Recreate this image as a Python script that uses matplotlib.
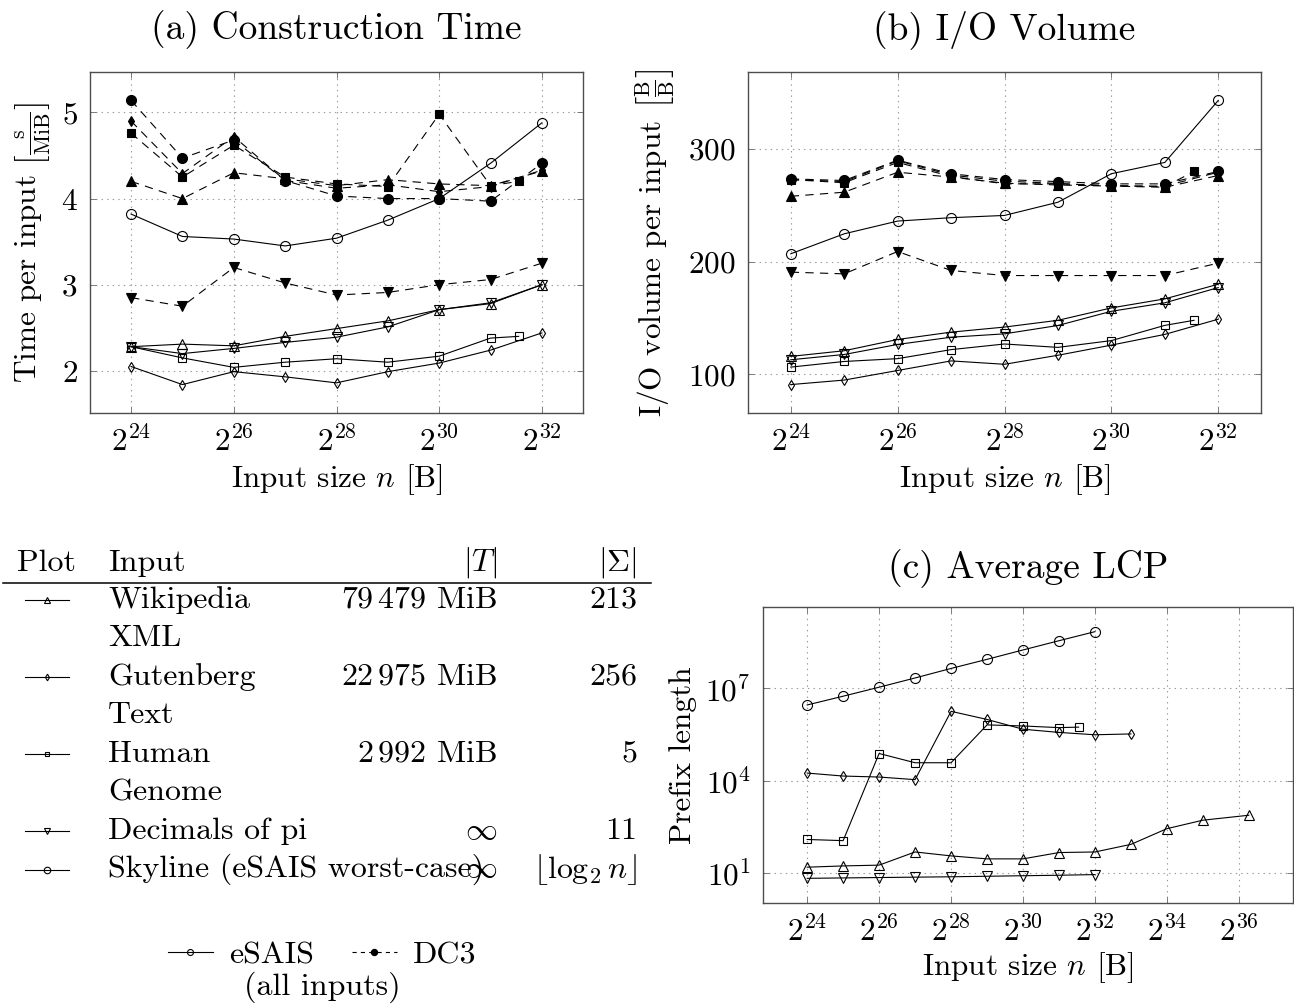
import numpy as np
import matplotlib
matplotlib.use('Agg')
import matplotlib.pyplot as plt
from matplotlib.lines import Line2D
from matplotlib.ticker import FixedLocator, NullLocator, LogFormatterSciNotation

plt.rcParams.update({
    'font.family': 'serif',
    'font.serif': ['cmr10'],
    'mathtext.fontset': 'cm',
    'axes.formatter.use_mathtext': True,
    'font.size': 22.5,
    'lines.scale_dashes': False,
})

W, H = 1294, 1007

# ---------------- data ----------------
inputs = ['wiki', 'gutenberg', 'genome', 'pi', 'skyline']
markers = {'wiki': '^', 'gutenberg': 'd', 'genome': 's', 'pi': 'v', 'skyline': 'o'}
msizes = {'^': 6.5, 'v': 6.5, 'd': 5.2, 's': 5.3, 'o': 7.2}

exp_std = [24, 25, 26, 27, 28, 29, 30, 31, 32]
exp_genome = [24, 25, 26, 27, 28, 29, 30, 31, 31.547]
exp_guten_lcp = [24, 25, 26, 27, 28, 29, 30, 31, 32, 33]
exp_wiki_lcp = [24, 25, 26, 27, 28, 29, 30, 31, 32, 33, 34, 35, 36.278]

# (a) construction time [s/MiB]
time_esais = {
    'wiki':      [2.28, 2.31, 2.29, 2.40, 2.49, 2.58, 2.71, 2.78, 3.00],
    'gutenberg': [2.05, 1.84, 1.99, 1.93, 1.86, 1.99, 2.09, 2.24, 2.44],
    'genome':    [2.28, 2.15, 2.04, 2.10, 2.14, 2.10, 2.17, 2.38, 2.40],
    'pi':        [2.28, 2.20, 2.26, 2.33, 2.39, 2.51, 2.71, 2.79, 3.00],
    'skyline':   [3.82, 3.56, 3.53, 3.45, 3.54, 3.75, 4.00, 4.41, 4.88],
}
time_dc3 = {
    'wiki':      [4.20, 4.00, 4.30, 4.23, 4.15, 4.22, 4.17, 4.15, 4.32],
    'gutenberg': [4.90, 4.29, 4.72, 4.21, 4.12, 4.16, 4.08, 4.14, 4.33],
    'genome':    [4.76, 4.25, 4.62, 4.25, 4.17, 4.14, 4.98, 4.15, 4.20],
    'pi':        [2.85, 2.75, 3.20, 3.02, 2.88, 2.91, 3.00, 3.06, 3.25],
    'skyline':   [5.14, 4.47, 4.68, 4.21, 4.03, 4.00, 4.00, 3.97, 4.41],
}

# (b) I/O volume [B/B]
io_esais = {
    'wiki':      [116, 121, 131, 137.5, 142, 148, 159, 167, 180],
    'gutenberg': [91, 95, 103.5, 112, 109, 117, 126, 135.5, 149],
    'genome':    [106.5, 111.5, 114, 122, 127, 124, 130, 143.5, 148],
    'pi':        [113, 117.7, 126.6, 133, 136, 143.4, 156, 163.5, 177],
    'skyline':   [207, 224.7, 236, 239, 241, 252.7, 278, 288, 343],
}
io_dc3 = {
    'wiki':      [258, 261.6, 279.3, 275, 269.6, 268, 267, 266, 276.4],
    'gutenberg': [272.8, 271, 289.5, 276.8, 271.4, 269.4, 267, 267, 279.4],
    'genome':    [272.8, 270, 288, 275.6, 269, 269, 267.5, 266.5, 280],
    'pi':        [190.7, 189.2, 209, 192.2, 187.7, 187.7, 187.7, 187.7, 198.7],
    'skyline':   [273.4, 272, 290, 278, 272.8, 271, 269, 269, 280],
}

# (c) average LCP
lcp = {
    'wiki':      [15, 16.5, 17.5, 47, 35, 28, 28, 45, 47, 83, 270, 510, 740],
    'gutenberg': [1.75e4, 1.4e4, 1.3e4, 1.07e4, 1.8e6, 9.8e5, 4.7e5, 3.7e5, 3.1e5, 3.3e5],
    'genome':    [120, 110, 7.6e4, 3.8e4, 3.8e4, 6.5e5, 6.0e5, 5.3e5, 5.5e5],
    'pi':        [6.5, 6.7, 6.9, 7.1, 7.3, 7.6, 7.9, 8.2, 8.6],
    'skyline':   [2.9e6, 5.6e6, 1.1e7, 2.2e7, 4.5e7, 8.9e7, 1.8e8, 3.6e8, 7.1e8],
}
lcp_x = {'wiki': exp_wiki_lcp, 'gutenberg': exp_guten_lcp, 'genome': exp_genome,
         'pi': exp_std, 'skyline': exp_std}

# table
table_names = [['Wikipedia', 'XML'], ['Gutenberg', 'Text'], ['Human', 'Genome'],
               ['Decimals of pi'], ['Skyline (eSAIS worst-case)']]
table_size = [r'$79\,479$ MiB', r'$22\,975$ MiB', r'$2\,992$ MiB', r'$\infty$', r'$\infty$']
table_sigma = ['213', '256', '5', '11', r'$\lfloor\log_2 n\rfloor$']


def px(x, y):
    return x / W, 1 - y / H


def frame(l, t, r, b):
    return [l / W, 1 - b / H, (r - l) / W, (b - t) / H]


def series(ax, xs, ys, m, dc3):
    ax.plot(2.0 ** np.array(xs), ys, color='k', lw=0.8,
            ls=(0, (6, 4.5)) if dc3 else '-',
            marker=m, ms=msizes[m], mec='k', mew=0.8,
            mfc='k' if dc3 else 'none')


def style(ax):
    ax.set_xscale('log', base=2)
    ax.margins(x=0.1, y=0.1)
    ax.grid(True, color='0.6', linestyle=(0, (1, 3)), linewidth=0.8)
    for s in ax.spines.values():
        s.set_color('0.3')
        s.set_linewidth(1.0)
    ax.tick_params(which='both', direction='in', top=True, right=True,
                   length=4, width=0.6, color='0.4', pad=9)
    ax.xaxis.set_minor_locator(NullLocator())


fig = plt.figure(figsize=(W / 100, H / 100), dpi=100)

# (a)
ax = fig.add_axes(frame(90, 72, 583, 413))
for k in inputs:
    xs = exp_genome if k == 'genome' else exp_std
    series(ax, xs, time_dc3[k], markers[k], True)
    series(ax, xs, time_esais[k], markers[k], False)
style(ax)
ax.xaxis.set_major_locator(FixedLocator([2.0 ** e for e in range(24, 33, 2)]))
ax.xaxis.set_major_formatter(LogFormatterSciNotation(base=2))
ax.set_yticks([2, 3, 4, 5])
ax.set_title('(a) Construction Time', pad=24)
ax.set_xlabel(r'Input size $n$ [B]', labelpad=4)
ax.set_ylabel(r'Time per input $\left[\frac{\mathrm{s}}{\mathrm{MiB}}\right]$', labelpad=6)

# (b)
ax = fig.add_axes(frame(748, 72, 1261, 413))
for k in inputs:
    xs = exp_genome if k == 'genome' else exp_std
    series(ax, xs, io_dc3[k], markers[k], True)
    series(ax, xs, io_esais[k], markers[k], False)
style(ax)
ax.xaxis.set_major_locator(FixedLocator([2.0 ** e for e in range(24, 33, 2)]))
ax.xaxis.set_major_formatter(LogFormatterSciNotation(base=2))
ax.set_yticks([100, 200, 300])
ax.set_title('(b) I/O Volume', pad=24)
ax.set_xlabel(r'Input size $n$ [B]', labelpad=4)
ax.set_ylabel(r'I/O volume per input $\left[\frac{\mathrm{B}}{\mathrm{B}}\right]$', labelpad=8)

# (c)
ax = fig.add_axes(frame(763, 607, 1293, 903))
for k in inputs:
    series(ax, lcp_x[k], lcp[k], markers[k], False)
ax.set_yscale('log')
style(ax)
ax.xaxis.set_major_locator(FixedLocator([2.0 ** e for e in range(24, 37, 2)]))
ax.xaxis.set_major_formatter(LogFormatterSciNotation(base=2))
ax.yaxis.set_major_locator(FixedLocator([1e1, 1e4, 1e7]))
ax.yaxis.set_minor_locator(NullLocator())
ax.set_title('(c) Average LCP', pad=21)
ax.set_xlabel(r'Input size $n$ [B]', labelpad=2)
ax.set_ylabel('Prefix length', labelpad=6)

# table
tfs = 23
fig.text(*px(17, 563), 'Plot', ha='left', va='center', fontsize=tfs)
fig.text(*px(108, 563), 'Input', ha='left', va='center', fontsize=tfs)
fig.text(*px(497, 563), r'$|T|$', ha='right', va='center', fontsize=tfs)
fig.text(*px(637, 563), r'$|\Sigma|$', ha='right', va='center', fontsize=tfs)
fig.add_artist(Line2D([3 / W, 651 / W], [1 - 583 / H] * 2, color='k', lw=1.1,
                      transform=fig.transFigure))
y = 600
for k, names, sz, sg in zip(inputs, table_names, table_size, table_sigma):
    m = markers[k]
    fig.add_artist(Line2D([25 / W, 69 / W], [1 - y / H] * 2, color='k', lw=0.8,
                          transform=fig.transFigure))
    fig.add_artist(Line2D([47 / W], [1 - y / H], color='k', marker=m,
                          ms=msizes[m] * 0.65, mfc='none', mew=0.8,
                          transform=fig.transFigure))
    fig.text(*px(497, y), sz, ha='right', va='center', fontsize=tfs)
    fig.text(*px(637, y), sg, ha='right', va='center', fontsize=tfs)
    for nm in names:
        fig.text(*px(108, y), nm, ha='left', va='center', fontsize=tfs)
        y += 38.5

# legend
handles = [Line2D([], [], color='k', lw=0.8, marker='o', ms=4.3, mfc='none', mew=0.8),
           Line2D([], [], color='k', lw=0.8, ls=(0, (3, 3)), marker='o', ms=4.3, mfc='k')]
fig.legend(handles, ['eSAIS', 'DC3'], ncol=2, loc='center', bbox_to_anchor=px(322, 955),
           frameon=False, handlelength=1.4, columnspacing=1.2, handletextpad=0.5,
           fontsize=tfs)
fig.text(*px(322, 987), '(all inputs)', ha='center', va='center', fontsize=tfs)

fig.savefig('out.png', dpi=100)
